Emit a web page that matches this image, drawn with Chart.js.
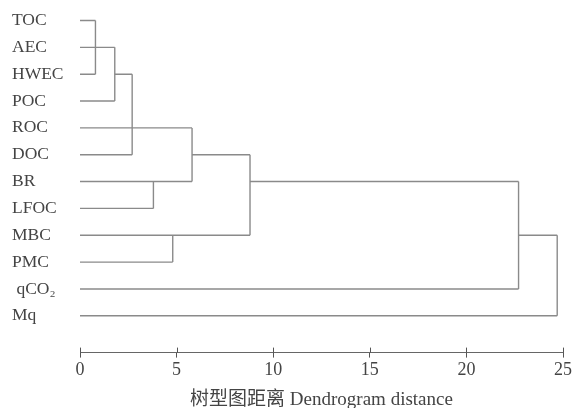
<!DOCTYPE html>
<html>
<head>
<meta charset="utf-8">
<script src="https://cdn.jsdelivr.net/npm/chart.js@4/dist/chart.umd.min.js"></script>
<style>
    html, body { margin: 0; padding: 0; background: #fff; }
    #wrap { width: 585px; height: 408px; }
</style>
</head>
<body>
<div id="wrap"><canvas id="chart-dendro"></canvas></div>
<script>
const leaves = ["TOC", "AEC", "HWEC", "POC", "ROC", "DOC", "BR", "LFOC", "MBC", "PMC", " qCO\u2082", "Mq"];
const distTicks = [0, 5, 10, 15, 20, 25];

// horizontal branches: row of leaf, start distance, end distance
const hRow  = [0, 2, 1, 3, 2, 5, 6, 7, 8, 9, 4, 5, 6, 10, 8, 11];
const hFrom = [0, 0, 0, 0, 1.8, 0, 0, 0, 0, 0, 0, 5.8, 8.8, 0, 22.7, 0];
const hTo   = [0.8, 0.8, 1.8, 1.8, 2.7, 2.7, 5.8, 3.8, 8.8, 4.8, 5.8, 8.8, 22.7, 22.7, 24.7, 24.7];

// vertical joins: merge distance, top row, bottom row
const vDist   = [0.8, 1.8, 2.7, 3.8, 4.8, 5.8, 8.8, 22.7, 24.7];
const vTop    = [0, 1, 2, 6, 8, 4, 5, 6, 8];
const vBottom = [2, 3, 5, 7, 9, 6, 8, 10, 11];

const lineColor = "#8a8a8a";
const textColor = "#444";

let segs = [];
for (let i = 0; i < hRow.length; i++) {
    segs.push([{ x: hFrom[i], y: hRow[i] }, { x: hTo[i], y: hRow[i] }]);
}
for (let i = 0; i < vDist.length; i++) {
    segs.push([{ x: vDist[i], y: vTop[i] }, { x: vDist[i], y: vBottom[i] }]);
}

const datasets = segs.map(function (pts) {
    return {
        data: pts,
        showLine: true,
        borderColor: lineColor,
        borderWidth: 1.4,
        pointRadius: 0,
        tension: 0,
    };
});

// small upward half of the "+" tick marks on the distance axis
const crossTicks = {
    id: "crossTicks",
    afterDraw(chart) {
        const sx = chart.scales.x;
        const ctx = chart.ctx;
        const y0 = chart.chartArea.bottom;
        ctx.save();
        ctx.strokeStyle = "#555";
        ctx.lineWidth = 1;
        distTicks.forEach(function (t) {
            const px = Math.round(sx.getPixelForValue(t)) + 0.5;
            ctx.beginPath();
            ctx.moveTo(px, y0 - 5);
            ctx.lineTo(px, y0);
            ctx.stroke();
        });
        ctx.restore();
    },
};

new Chart(document.getElementById("chart-dendro"), {
    type: "scatter",
    data: { datasets: datasets },
    options: {
        responsive: true,
        maintainAspectRatio: false,
        animation: false,
        layout: { padding: { left: 12, right: 22, top: 2, bottom: -3 } },
        plugins: {
            legend: { display: false },
            tooltip: { enabled: false },
        },
        scales: {
            x: {
                type: "linear",
                min: 0,
                max: 25,
                afterBuildTicks: function (scale) {
                    scale.ticks = distTicks.map(function (v) { return { value: v }; });
                },
                grid: { drawOnChartArea: false, drawTicks: true, tickLength: 5, color: "#555" },
                border: { display: true, color: "#666", width: 1, dash: [5, 3] },
                ticks: {
                    color: textColor,
                    padding: 2,
                    maxRotation: 0,
                    font: { family: "'Liberation Serif', 'Times New Roman', serif", size: 18 },
                },
                title: {
                    display: true,
                    text: "树型图距离 Dendrogram distance",
                    color: textColor,
                    padding: { top: 5, bottom: 0 },
                    font: { family: "'Liberation Serif', 'Noto Sans CJK SC', serif", size: 19 },
                },
            },
            y: {
                type: "linear",
                reverse: true,
                min: -0.26,
                max: 12.37,
                afterBuildTicks: function (scale) {
                    scale.ticks = leaves.map(function (l, i) { return { value: i }; });
                },
                afterFit: function (scale) {
                    scale.width = 68;
                },
                grid: { display: false },
                border: { display: false },
                ticks: {
                    color: textColor,
                    crossAlign: "far",
                    callback: function (v) { return leaves[v]; },
                    font: { family: "'Liberation Serif', 'Times New Roman', serif", size: 17.5 },
                },
            },
        },
    },
    plugins: [crossTicks],
});
</script>
</body>
</html>
